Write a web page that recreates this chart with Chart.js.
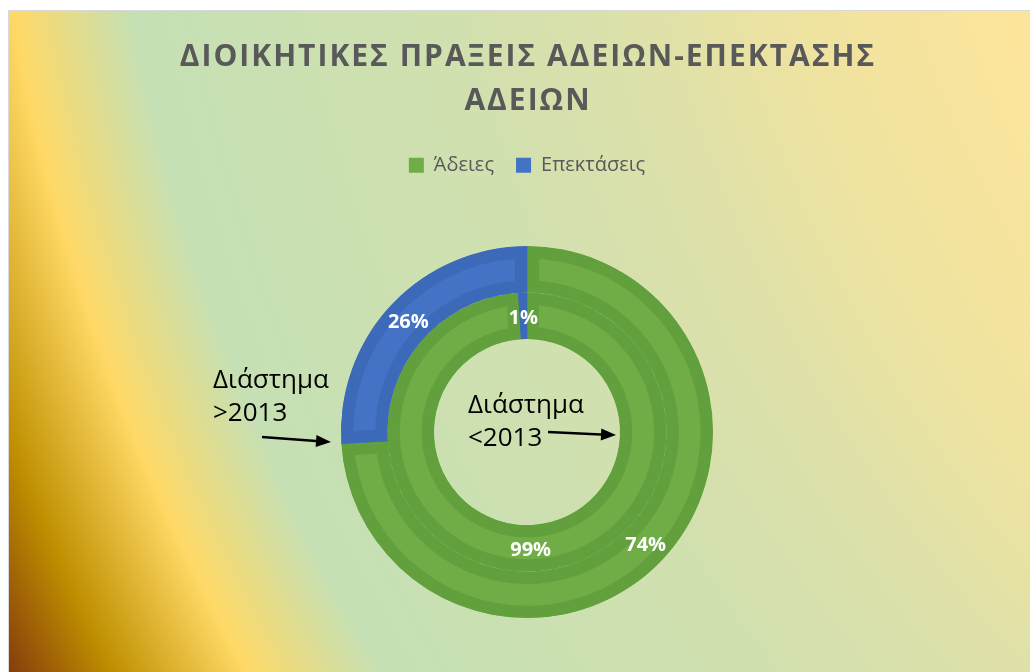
<!DOCTYPE html>
<html>
<head>
<meta charset="utf-8">
<script src="https://cdn.jsdelivr.net/npm/chart.js@4.4.1/dist/chart.umd.min.js"></script>
<style>
  html, body { margin: 0; padding: 0; background: #fff; overflow: hidden; }
  #wrap {
    position: absolute; left: 8px; top: 10px;
    width: 1021px; height: 700px;
    border-left: 1px solid #d9d9d9; border-top: 1px solid #d9d9d9;
    background: radial-gradient(circle 2360px at 2117px -380px,
      #ffe699 0%, #fde59a 49%, #efe3a0 58.5%, #e0e1a8 64%, #d2e0af 72%,
      #c5e0b4 86%, #ffd966 91%, #bf8f00 96%, #843c0c 100%);
  }
  canvas { display: block; }
</style>
</head>
<body>
<div id="wrap"><canvas id="myChart" width="1021" height="700"></canvas></div>
<script>
var categories = ['Άδειες', 'Επεκτάσεις']
var periods = ['Διάστημα >2013', 'Διάστημα <2013']
var after2013 = [74, 26]
var before2013 = [99, 1]
var titleLines = ['ΔΙΟΙΚΗΤΙΚΕΣ ΠΡΑΞΕΙΣ ΑΔΕΙΩΝ-ΕΠΕΚΤΑΣΗΣ', 'ΑΔΕΙΩΝ']

var fillColors = ['#70ad47', '#4472c4']
var edgeColors = ['#62a03d', '#3d69b9']

var titleSize = 30
var titleLineHeight = 1.47
var titleTop = 24

// chart.js title keeps the space, this redraws it letter-spaced like the original
var spacedTitle = {
  id: 'spacedTitle',
  afterDraw: function(chart) {
    var tb = chart.titleBlock
    var ctx = chart.ctx
    var lh = titleSize * titleLineHeight
    ctx.save()
    ctx.font = 'bold ' + titleSize + 'px "Open Sans"'
    ctx.letterSpacing = '2px'
    ctx.fillStyle = '#595959'
    ctx.textAlign = 'center'
    ctx.textBaseline = 'middle'
    titleLines.forEach(function(line, i) {
      ctx.fillText(line, (tb.left + tb.right) / 2 + 1, tb.top + titleTop + lh * (i + 0.5))
    })
    ctx.restore()
  }
}

// white percentage labels in the middle of each slice
var sliceLabels = {
  id: 'sliceLabels',
  afterDatasetsDraw: function(chart) {
    var ctx = chart.ctx
    ctx.save()
    ctx.font = 'bold 20px "Open Sans"'
    ctx.fillStyle = '#ffffff'
    ctx.textAlign = 'center'
    ctx.textBaseline = 'middle'
    chart.data.datasets.forEach(function(ds, i) {
      chart.getDatasetMeta(i).data.forEach(function(arc, j) {
        var p = arc.tooltipPosition()
        ctx.fillText(ds.data[j] + '%', p.x, p.y + 2)
      })
    })
    ctx.restore()
  }
}

function arrow(ctx, x1, y1, x2, y2) {
  var a = Math.atan2(y2 - y1, x2 - x1)
  var head = 15
  ctx.beginPath()
  ctx.moveTo(x1, y1)
  ctx.lineTo(x2 - head * Math.cos(a), y2 - head * Math.sin(a))
  ctx.stroke()
  ctx.beginPath()
  ctx.moveTo(x2, y2)
  ctx.lineTo(x2 - head * Math.cos(a) + 6 * Math.sin(a), y2 - head * Math.sin(a) - 6 * Math.cos(a))
  ctx.lineTo(x2 - head * Math.cos(a) - 6 * Math.sin(a), y2 - head * Math.sin(a) + 6 * Math.cos(a))
  ctx.closePath()
  ctx.fill()
}

// "Διάστημα" notes with arrows pointing at each ring
var ringNotes = {
  id: 'ringNotes',
  afterDraw: function(chart) {
    var ctx = chart.ctx
    var arc = chart.getDatasetMeta(0).data[0]
    var cx = arc.x, cy = arc.y
    var outer = periods[0].split(' '), inner = periods[1].split(' ')
    ctx.save()
    ctx.font = '26px "Open Sans"'
    ctx.fillStyle = '#000'
    ctx.strokeStyle = '#000'
    ctx.lineWidth = 2.5
    ctx.textAlign = 'left'
    ctx.textBaseline = 'middle'
    ctx.fillText(outer[0], cx - 314, cy - 52)
    ctx.fillText(outer[1], cx - 314, cy - 19)
    arrow(ctx, cx - 265, cy + 5, cx - 196, cy + 10)
    ctx.fillText(inner[0], cx - 59, cy - 27)
    ctx.fillText(inner[1], cx - 59, cy + 6)
    arrow(ctx, cx + 21, cy, cx + 89, cy + 3)
    ctx.restore()
  }
}

var chartData = {
  labels: categories,
  datasets: [{
    label: periods[0],
    data: after2013,
    backgroundColor: fillColors,
    borderColor: edgeColors,
    borderWidth: 12,
    borderAlign: 'inner'
  }, {
    label: periods[1],
    data: before2013,
    backgroundColor: fillColors,
    borderColor: edgeColors,
    borderWidth: 12,
    borderAlign: 'inner'
  }]
}

var chartOptions = {
  responsive: false,
  animation: false,
  radius: 186,
  cutout: '50%',
  layout: { padding: { left: 15, right: 0, top: 0, bottom: 32 } },
  plugins: {
    title: {
      display: true,
      text: titleLines,
      color: 'rgba(0,0,0,0)',
      font: { family: 'Open Sans', size: titleSize, weight: 'bold', lineHeight: titleLineHeight },
      padding: { top: titleTop, bottom: 10 }
    },
    legend: {
      position: 'top',
      labels: {
        color: '#595959',
        font: { family: 'Open Sans', size: 20 },
        boxWidth: 15,
        boxHeight: 15,
        padding: 22,
        generateLabels: function(chart) {
          var items = Chart.overrides.doughnut.plugins.legend.labels.generateLabels(chart)
          items.forEach(function(item) { item.lineWidth = 0 })
          return items
        }
      }
    },
    tooltip: { enabled: false }
  }
}

var myChart = new Chart(document.getElementById('myChart'), {
  type: 'doughnut',
  data: chartData,
  options: chartOptions,
  plugins: [sliceLabels, ringNotes, spacedTitle]
})
</script>
</body>
</html>
